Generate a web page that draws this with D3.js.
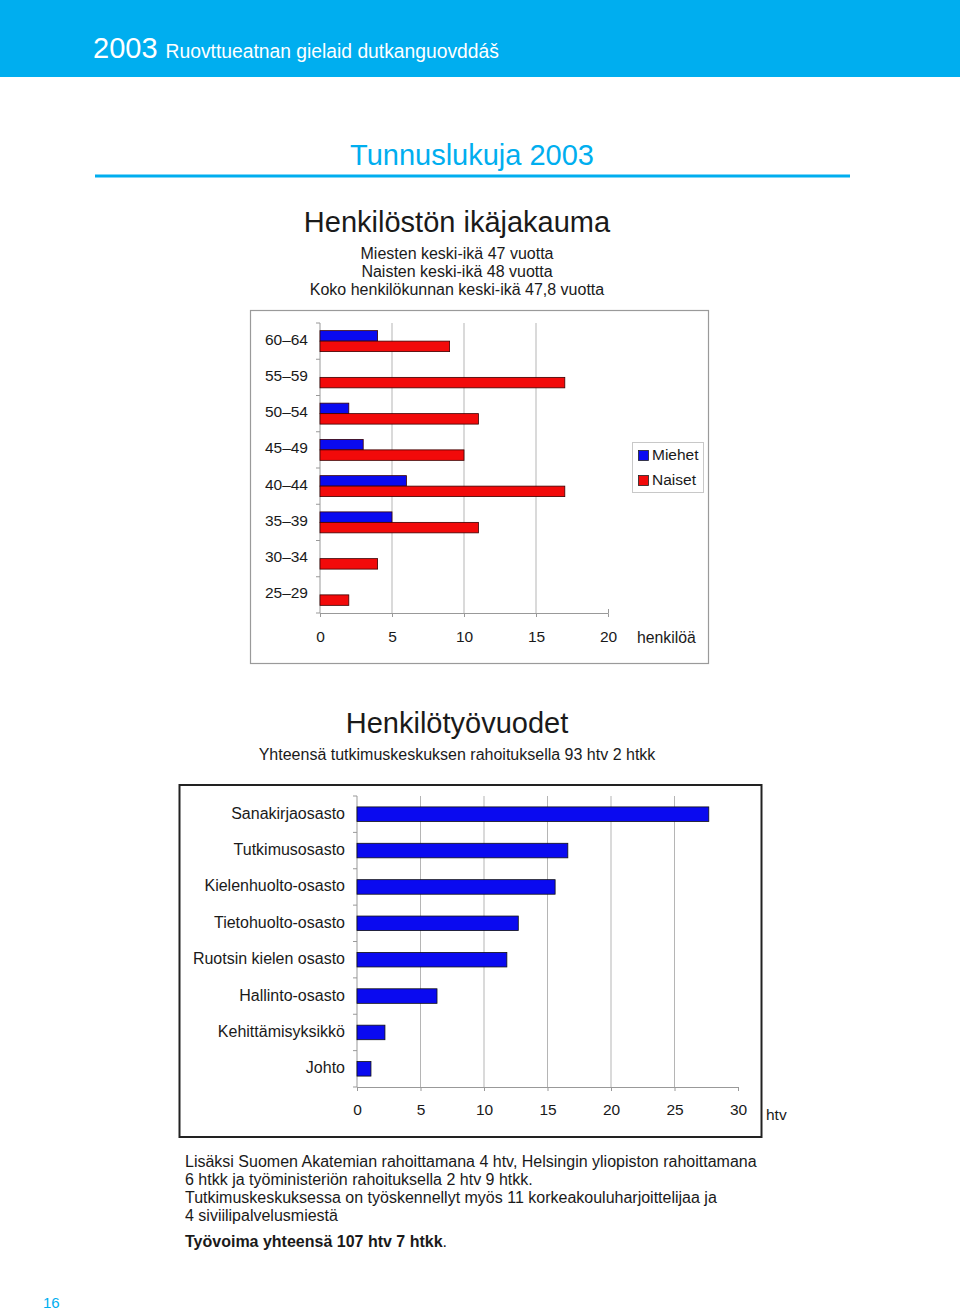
<!DOCTYPE html>
<html><head><meta charset="utf-8">
<script src="https://cdn.jsdelivr.net/npm/d3@7"></script>
<style>
body{margin:0;background:#fff;}
svg{display:block;font-family:"Liberation Sans",Arial,Helvetica,sans-serif;}
</style></head>
<body>
<svg id="page" width="960" height="1314"></svg>
<script>
// ---- Data ----
const ageGroups = ["60–64","55–59","50–54","45–49","40–44","35–39","30–34","25–29"];
const men   = [4, 0, 2, 3, 6, 5, 0, 0];
const women = [9, 17, 11, 10, 17, 11, 4, 2];
const ageSeries = ["Miehet","Naiset"];
const ageTicks = [0,5,10,15,20];

const departments = ["Sanakirjaosasto","Tutkimusosasto","Kielenhuolto-osasto","Tietohuolto-osasto","Ruotsin kielen osasto","Hallinto-osasto","Kehittämisyksikkö","Johto"];
const personYears = [27.7, 16.6, 15.6, 12.7, 11.8, 6.3, 2.2, 1.1];
const deptTicks = [0,5,10,15,20,25,30];

const BLUE = "#0a0af0", RED = "#f20a0a", TXT = "#1a1a1a", CYAN = "#00aeef";
const FF = "Liberation Sans, Arial, sans-serif";

const svg = d3.select("#page");

// ---- Header ----
svg.append("rect").attr("x",0).attr("y",0).attr("width",960).attr("height",77).attr("fill",CYAN);
const hdr = svg.append("text").attr("x",93).attr("y",58).attr("fill","#fff");
hdr.append("tspan").attr("font-size",29).text("2003");
hdr.append("tspan").attr("font-size",19.3).attr("dx",8).text("Ruovttueatnan gielaid dutkanguovddáš");

svg.append("text").attr("x",472).attr("y",165).attr("text-anchor","middle")
  .attr("font-size",29).attr("fill",CYAN).text("Tunnuslukuja 2003");
svg.append("rect").attr("x",95).attr("y",174.5).attr("width",755).attr("height",3).attr("fill",CYAN);

svg.append("text").attr("x",457).attr("y",232).attr("text-anchor","middle")
  .attr("font-size",29).attr("fill",TXT).text("Henkilöstön ikäjakauma");
["Miesten keski-ikä 47 vuotta","Naisten keski-ikä 48 vuotta","Koko henkilökunnan keski-ikä 47,8 vuotta"]
  .forEach((t,i)=>svg.append("text").attr("x",457).attr("y",259+i*18).attr("text-anchor","middle")
    .attr("font-size",16).attr("fill",TXT).text(t));

// ---- Chart 1 ----
svg.append("rect").attr("x",250.5).attr("y",310.5).attr("width",458).attr("height",353)
  .attr("fill","none").attr("stroke","#9a9a9a").attr("stroke-width",1.2);

const x1 = d3.scaleLinear().domain([0,20]).range([320,608]);
const y1 = d3.scaleBand().domain(ageGroups).range([323,613]).paddingInner(0).paddingOuter(0);
const s1 = d3.scaleBand().domain(ageSeries).range([0,y1.bandwidth()]).paddingInner(0).paddingOuter(0.73);
const g1 = svg.append("g");

g1.selectAll(".grid").data(ageTicks.slice(1,-1)).join("line")
  .attr("x1",d=>x1(d)).attr("x2",d=>x1(d)).attr("y1",323).attr("y2",613)
  .attr("stroke","#b5b5b5").attr("stroke-width",1);
const ax1 = g1.append("g").attr("transform","translate(0,613)")
  .call(d3.axisBottom(x1).tickValues(ageTicks).tickSize(4).tickPadding(14));
ax1.select(".domain").attr("stroke","#999");
ax1.selectAll(".tick line").attr("stroke","#999");
ax1.selectAll("text").attr("font-size",15.5).attr("fill",TXT).attr("font-family",FF);
ax1.selectAll(".tick").filter(d=>d===20).select("line").attr("y2",-4);
g1.append("line").attr("x1",320).attr("x2",320).attr("y1",323).attr("y2",613).attr("stroke","#999");
const bounds1 = ageGroups.map(a=>y1(a)).concat([y1(ageGroups[ageGroups.length-1])+y1.bandwidth()]);
g1.selectAll(".yt").data(bounds1).join("line")
  .attr("x1",316).attr("x2",320).attr("y1",d=>d).attr("y2",d=>d).attr("stroke","#999");
g1.selectAll(".ylab").data(ageGroups).join("text")
  .attr("x",308).attr("y",d=>y1(d)+y1.bandwidth()/2+3.5).attr("text-anchor","end")
  .attr("font-size",15.5).attr("fill",TXT).text(d=>d);
const rows1 = ageGroups.map((a,i)=>({a, Miehet:men[i], Naiset:women[i]}));
ageSeries.forEach(s=>{
  g1.selectAll(".b"+s).data(rows1.filter(r=>r[s]>0)).join("rect")
    .attr("x",x1(0)).attr("y",d=>y1(d.a)+s1(s))
    .attr("width",d=>x1(d[s])-x1(0)).attr("height",s1.bandwidth())
    .attr("fill",s==="Miehet"?BLUE:RED).attr("stroke","#3a0000").attr("stroke-width",0.8);
});
svg.append("rect").attr("x",632.5).attr("y",442.5).attr("width",71).attr("height",50)
  .attr("fill","#fff").attr("stroke","#c8c8c8");
ageSeries.forEach((s,i)=>{
  svg.append("rect").attr("x",638.5).attr("y",450.5+i*25).attr("width",10).attr("height",10)
    .attr("fill",i===0?BLUE:RED).attr("stroke","#222").attr("stroke-width",0.8);
  svg.append("text").attr("x",652).attr("y",460+i*25).attr("font-size",15.5).attr("fill",TXT).text(s);
});
svg.append("text").attr("x",637).attr("y",643).attr("font-size",15.8).attr("fill",TXT).text("henkilöä");

// ---- Chart 2 titles ----
svg.append("text").attr("x",457).attr("y",733).attr("text-anchor","middle")
  .attr("font-size",29).attr("fill",TXT).text("Henkilötyövuodet");
svg.append("text").attr("x",457).attr("y",760).attr("text-anchor","middle")
  .attr("font-size",16).attr("fill",TXT).text("Yhteensä tutkimuskeskuksen rahoituksella 93 htv 2 htkk");

// ---- Chart 2 ----
svg.append("rect").attr("x",179.5).attr("y",785).attr("width",582).attr("height",352)
  .attr("fill","none").attr("stroke","#222").attr("stroke-width",2);
const x2 = d3.scaleLinear().domain([0,30]).range([357,738]);
const y2 = d3.scaleBand().domain(departments).range([796,1087]).paddingInner(0.6).paddingOuter(0.3);
const g2 = svg.append("g");
g2.selectAll(".grid").data(deptTicks.slice(1,-1)).join("line")
  .attr("x1",d=>x2(d)).attr("x2",d=>x2(d)).attr("y1",796).attr("y2",1087)
  .attr("stroke","#b5b5b5");
const ax2 = g2.append("g").attr("transform","translate(0,1087)")
  .call(d3.axisBottom(x2).tickValues(deptTicks).tickSize(4).tickPadding(13));
ax2.select(".domain").attr("stroke","#999");
ax2.selectAll(".tick line").attr("stroke","#999");
ax2.selectAll("text").attr("font-size",15.5).attr("fill",TXT).attr("font-family",FF);
g2.append("line").attr("x1",357).attr("x2",357).attr("y1",796).attr("y2",1087).attr("stroke","#999");
const step2 = y2.step();
const bounds2 = d3.range(departments.length+1).map(i=>796+i*step2);
g2.selectAll(".yt").data(bounds2).join("line")
  .attr("x1",353).attr("x2",357).attr("y1",d=>d).attr("y2",d=>d).attr("stroke","#999");
g2.selectAll(".ylab").data(departments).join("text")
  .attr("x",345).attr("y",d=>y2(d)+y2.bandwidth()/2+4.5).attr("text-anchor","end")
  .attr("font-size",16).attr("fill",TXT).text(d=>d);
g2.selectAll(".bar").data(departments.map((d,i)=>({d,v:personYears[i]}))).join("rect")
  .attr("x",x2(0)).attr("y",d=>y2(d.d)).attr("width",d=>x2(d.v)-x2(0)).attr("height",y2.bandwidth())
  .attr("fill",BLUE).attr("stroke","#111").attr("stroke-width",0.8);
svg.append("text").attr("x",766).attr("y",1120).attr("font-size",15.5).attr("fill",TXT).text("htv");

// ---- Footer text ----
const lines = ["Lisäksi Suomen Akatemian rahoittamana 4 htv, Helsingin yliopiston rahoittamana",
  "6 htkk ja työministeriön rahoituksella 2 htv 9 htkk.",
  "Tutkimuskeskuksessa on työskennellyt myös 11 korkeakouluharjoittelijaa ja",
  "4 siviilipalvelusmiestä"];
lines.forEach((t,i)=>svg.append("text").attr("x",185).attr("y",1167+i*18).attr("font-size",16).attr("fill",TXT).text(t));
const bt = svg.append("text").attr("x",185).attr("y",1247).attr("font-size",16).attr("fill",TXT);
bt.append("tspan").attr("font-weight","bold").text("Työvoima yhteensä 107 htv 7 htkk");
bt.append("tspan").text(".");

svg.append("text").attr("x",43).attr("y",1308).attr("font-size",15).attr("fill",CYAN).text("16");
</script>
</body></html>
